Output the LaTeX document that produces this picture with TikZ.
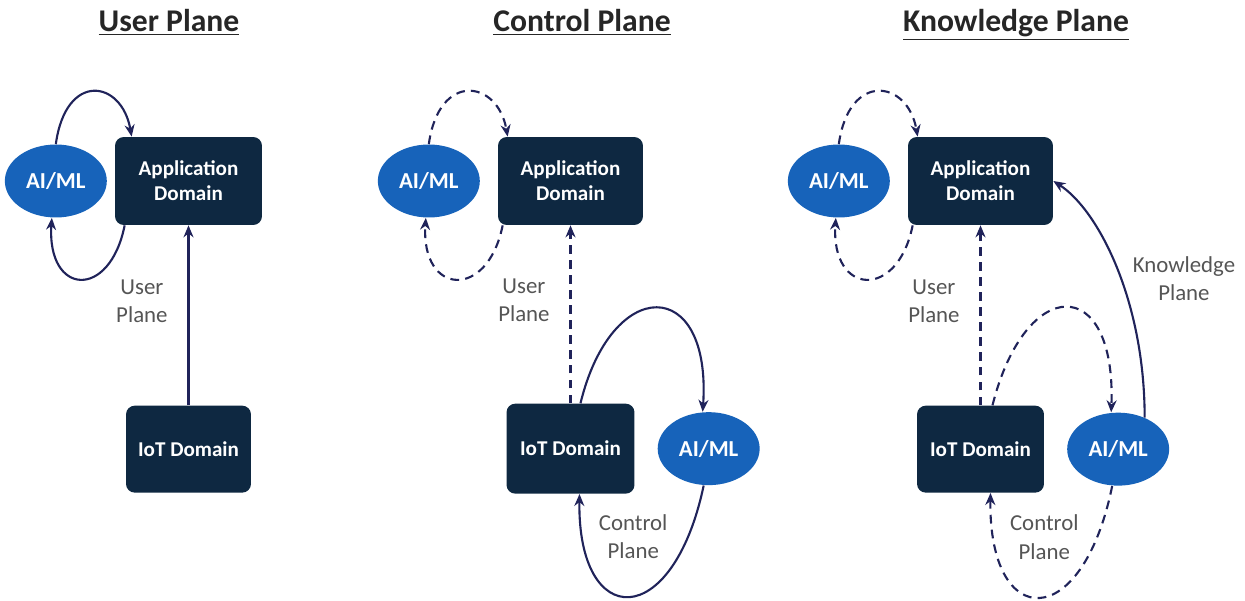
\documentclass[tikz,border=0pt]{standalone}
\usepackage{fontspec}
\setmainfont{Carlito}
\usetikzlibrary{arrows.meta,positioning,shapes.geometric}
\definecolor{domain}{HTML}{0E2841}
\definecolor{aiblue}{HTML}{1763BA}
\definecolor{wire}{HTML}{20235A}
\definecolor{note}{HTML}{555555}

\begin{document}
\begin{tikzpicture}[
  x=0.02cm, y=-0.02cm,
  title/.style={font=\fontsize{18}{21}\selectfont\bfseries, text=black!85, anchor=base},
  box/.style={fill=domain, rounded corners=5pt, text=white, align=center,
    font=\fontsize{12}{14.4}\selectfont\bfseries, minimum height=1.76cm},
  aiml/.style={ellipse, fill=aiblue, text=white, inner sep=0pt,
    minimum width=2.04cm, minimum height=1.46cm, font=\fontsize{13}{15}\selectfont\bfseries},
  flow/.style={-{Stealth[length=2.4mm,width=2mm]}, line width=1.2pt, draw=wire},
  dflow/.style={flow, dash pattern=on 5pt off 3.5pt},
  label/.style={font=\fontsize{13}{16}\selectfont, text=note, align=center}
]
\useasboundingbox (0,0) rectangle (1245,601);

% headings
\node[title] (t1) at (169,32) {\underline{User Plane}};
\node[title] (t2) at (582,32) {\underline{Control Plane}};
\node[title] (t3) at (1016,32) {\underline{Knowledge Plane}};

% user plane
\node[box, minimum width=2.94cm] (app1) at (188.5,181) {Application\\Domain};
\node[aiml, left=0.15cm of app1] (ai1) {AI/ML};
\node[box, minimum width=2.5cm, minimum height=1.74cm, below=3.6cm of app1] (iot1) {IoT Domain};

\draw[flow] (ai1.north) .. controls +(10,-73) and +(-10,-57) .. ([xshift=0.34cm]app1.north west);
\draw[flow] ([xshift=0.2cm]app1.south west) .. controls +(-15,75) and +(-5,78) .. ([xshift=-0.08cm]ai1.south);
\draw[flow] (iot1.north) -- node[label, pos=0.58, left=0.28cm] (up1) {User\\Plane} (iot1.north |- app1.south);

% control plane
\node[box, minimum width=2.9cm] (app2) at (570.5,181) {Application\\Domain};
\node[aiml, left=0.35cm of app2] (ai2) {AI/ML};
\node[box, minimum width=2.56cm, minimum height=1.8cm, below=3.56cm of app2] (iot2) {IoT Domain};
\node[aiml, right=0.45cm of iot2] (ai2b) {AI/ML};

\draw[dflow] (ai2.north) .. controls +(10,-73) and +(-10,-57) .. ([xshift=0.2cm]app2.north west);
\draw[dflow] ([xshift=0.1cm]app2.south west) .. controls +(-15,75) and +(-5,78) .. ([xshift=-0.06cm]ai2.south);
\draw[dflow] (iot2.north) -- node[label, pos=0.58, left=0.28cm] (up2) {User\\Plane} (iot2.north |- app2.south);
\draw[flow] ([xshift=0.2cm]iot2.north) .. controls +(31,-128) and +(9,-137) .. ([xshift=-0.12cm]ai2b.north);
\draw[flow] ([xshift=-0.1cm]ai2b.south) .. controls +(-31,147) and +(-2,137) .. ([xshift=0.18cm]iot2.south)
  node[label, pos=0.5, above=0.62cm, xshift=0.08cm] (cp2) {Control\\Plane};

% knowledge plane
\node[box, minimum width=2.9cm] (app3) at (980.5,181) {Application\\Domain};
\node[aiml, left=0.35cm of app3] (ai3) {AI/ML};
\node[box, minimum width=2.54cm, minimum height=1.74cm, below=3.6cm of app3] (iot3) {IoT Domain};
\node[aiml, right=0.45cm of iot3] (ai3b) {AI/ML};

\draw[dflow] (ai3.north) .. controls +(10,-73) and +(-10,-57) .. ([xshift=0.2cm]app3.north west);
\draw[dflow] ([xshift=0.1cm]app3.south west) .. controls +(-15,75) and +(-5,78) .. ([xshift=-0.06cm]ai3.south);
\draw[dflow] (iot3.north) -- node[label, pos=0.58, left=0.28cm] (up3) {User\\Plane} (iot3.north |- app3.south);
\draw[dflow] ([xshift=0.24cm]iot3.north) .. controls +(33,-131) and +(5,-139) .. ([xshift=-0.14cm]ai3b.north);
\draw[dflow] ([xshift=-0.12cm]ai3b.south) .. controls +(-30,148) and +(-2,139) .. ([xshift=0.2cm]iot3.south)
  node[label, pos=0.5, above=0.62cm, xshift=0.1cm] (cp3) {Control\\Plane};
\draw[flow] (ai3b.50) .. controls +(0,-117) and +(45,29) .. (app3.east)
  node[label, pos=0.45, right=0.1cm] (kp3) {Knowledge\\Plane};

\end{tikzpicture}
\end{document}
